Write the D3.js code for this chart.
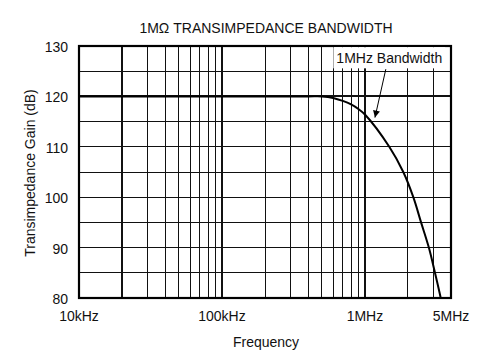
<!DOCTYPE html>
<html lang="en">
<head>
<meta charset="UTF-8">
<title>1MΩ Transimpedance Bandwidth</title>
<script src="https://d3js.org/d3.v7.min.js"></script>
<style>
  body { margin: 0; background: #fff; }
  text { font-family: "Liberation Sans", Arial, sans-serif; font-size: 14px; fill: #111; }
</style>
</head>
<body>
<svg id="chart" width="493" height="361"></svg>
<script>
// curve (Hz, dB)
var freq = [1e4, 1e5, 4e5, 5e5, 6e5, 7e5, 8e5, 9e5, 1e6, 1.48e6, 1.855e6, 2.18e6, 2.47e6, 2.8e6, 3.09e6, 3.39e6, 3.5e6];
var gain = [120, 120, 120, 120, 119.7, 119.1, 118.4, 117.5, 116.4, 110, 105, 100, 95, 90, 85, 80, 78];

var xTickValues = [1e4, 1e5, 1e6, 4e6];
var xTickLabels = ["10kHz", "100kHz", "1MHz", "5MHz"];
var yTickValues = [80, 90, 100, 110, 120, 130];

var vGrid = [2e4, 3e4, 4e4, 5e4, 6e4, 7e4, 8e4, 9e4, 1e5,
             2e5, 3e5, 4e5, 5e5, 6e5, 7e5, 8e5, 9e5, 1e6, 2e6, 3e6];
var vGridBold = [2e4, 1e5, 1e6];
var hGrid = [85, 90, 95, 100, 105, 110, 115, 120, 125];
var hGridBold = [120];

var svg = d3.select("#chart");
var pLeft = 79, pRight = 451, pTop = 46, pBottom = 298;

var x = d3.scaleLog().domain([1e4, 4e6]).range([pLeft, pRight]);
var y = d3.scaleLinear().domain([80, 130]).range([pBottom, pTop]);

svg.append("clipPath").attr("id", "clip")
  .append("rect").attr("x", pLeft).attr("y", pTop)
  .attr("width", pRight - pLeft).attr("height", pBottom - pTop);

// grid
var grid = svg.append("g").attr("shape-rendering", "crispEdges");
grid.selectAll("line.v").data(vGrid).enter().append("line")
  .attr("x1", d => x(d)).attr("x2", d => x(d))
  .attr("y1", pTop).attr("y2", pBottom)
  .attr("stroke", "#111")
  .attr("stroke-width", d => vGridBold.indexOf(d) >= 0 ? 2 : 1);
grid.selectAll("line.h").data(hGrid).enter().append("line")
  .attr("y1", d => y(d)).attr("y2", d => y(d))
  .attr("x1", pLeft).attr("x2", pRight)
  .attr("stroke", "#111")
  .attr("stroke-width", d => hGridBold.indexOf(d) >= 0 ? 2 : 1);

// curve
var pts = freq.map((f, i) => [f, gain[i]]);
svg.append("path")
  .datum(pts)
  .attr("clip-path", "url(#clip)")
  .attr("fill", "none")
  .attr("stroke", "#000")
  .attr("stroke-width", 2)
  .attr("d", d3.line().x(d => x(d[0])).y(d => y(d[1])).curve(d3.curveCatmullRom.alpha(0.5)));

// frame
svg.append("rect")
  .attr("x", pLeft).attr("y", pTop)
  .attr("width", pRight - pLeft).attr("height", pBottom - pTop)
  .attr("fill", "none").attr("stroke", "#000").attr("stroke-width", 2.2);

// annotation
var lab = svg.append("text")
  .attr("x", x(1.48e6)).attr("y", y(126.6))
  .attr("text-anchor", "middle")
  .text("1MHz Bandwidth");
var bb = lab.node().getBBox();
svg.insert("rect", "text")
  .attr("x", bb.x - 3).attr("y", y(130) + 1.2)
  .attr("width", bb.width + 6).attr("height", bb.y + bb.height - y(130) + 1)
  .attr("fill", "#fff");

svg.append("defs").append("marker")
  .attr("id", "arr").attr("viewBox", "0 0 10 10")
  .attr("refX", 10).attr("refY", 5)
  .attr("markerWidth", 9).attr("markerHeight", 7)
  .attr("markerUnits", "userSpaceOnUse")
  .attr("orient", "auto")
  .append("path").attr("d", "M0,0L10,5L0,10Z").attr("fill", "#000");

svg.append("line")
  .attr("x1", x(1.40e6)).attr("y1", y(125.4))
  .attr("x2", x(1.175e6)).attr("y2", y(115.8))
  .attr("stroke", "#000").attr("stroke-width", 1)
  .attr("marker-end", "url(#arr)");

// x labels
svg.selectAll("text.xt").data(xTickValues).enter().append("text")
  .attr("x", d => x(d)).attr("y", 321)
  .attr("text-anchor", "middle")
  .text((d, i) => xTickLabels[i]);

// y labels
svg.selectAll("text.yt").data(yTickValues).enter().append("text")
  .attr("x", 68).attr("y", d => y(d) + 6)
  .attr("text-anchor", "end")
  .text(d => d);

// titles
svg.append("text").attr("x", 266).attr("y", 33)
  .attr("text-anchor", "middle").text("1MΩ TRANSIMPEDANCE BANDWIDTH");
svg.append("text").attr("x", 266).attr("y", 347)
  .attr("text-anchor", "middle").text("Frequency");
svg.append("text")
  .attr("transform", "translate(35,173) rotate(-90)")
  .attr("text-anchor", "middle").text("Transimpedance Gain (dB)");
</script>
</body>
</html>
